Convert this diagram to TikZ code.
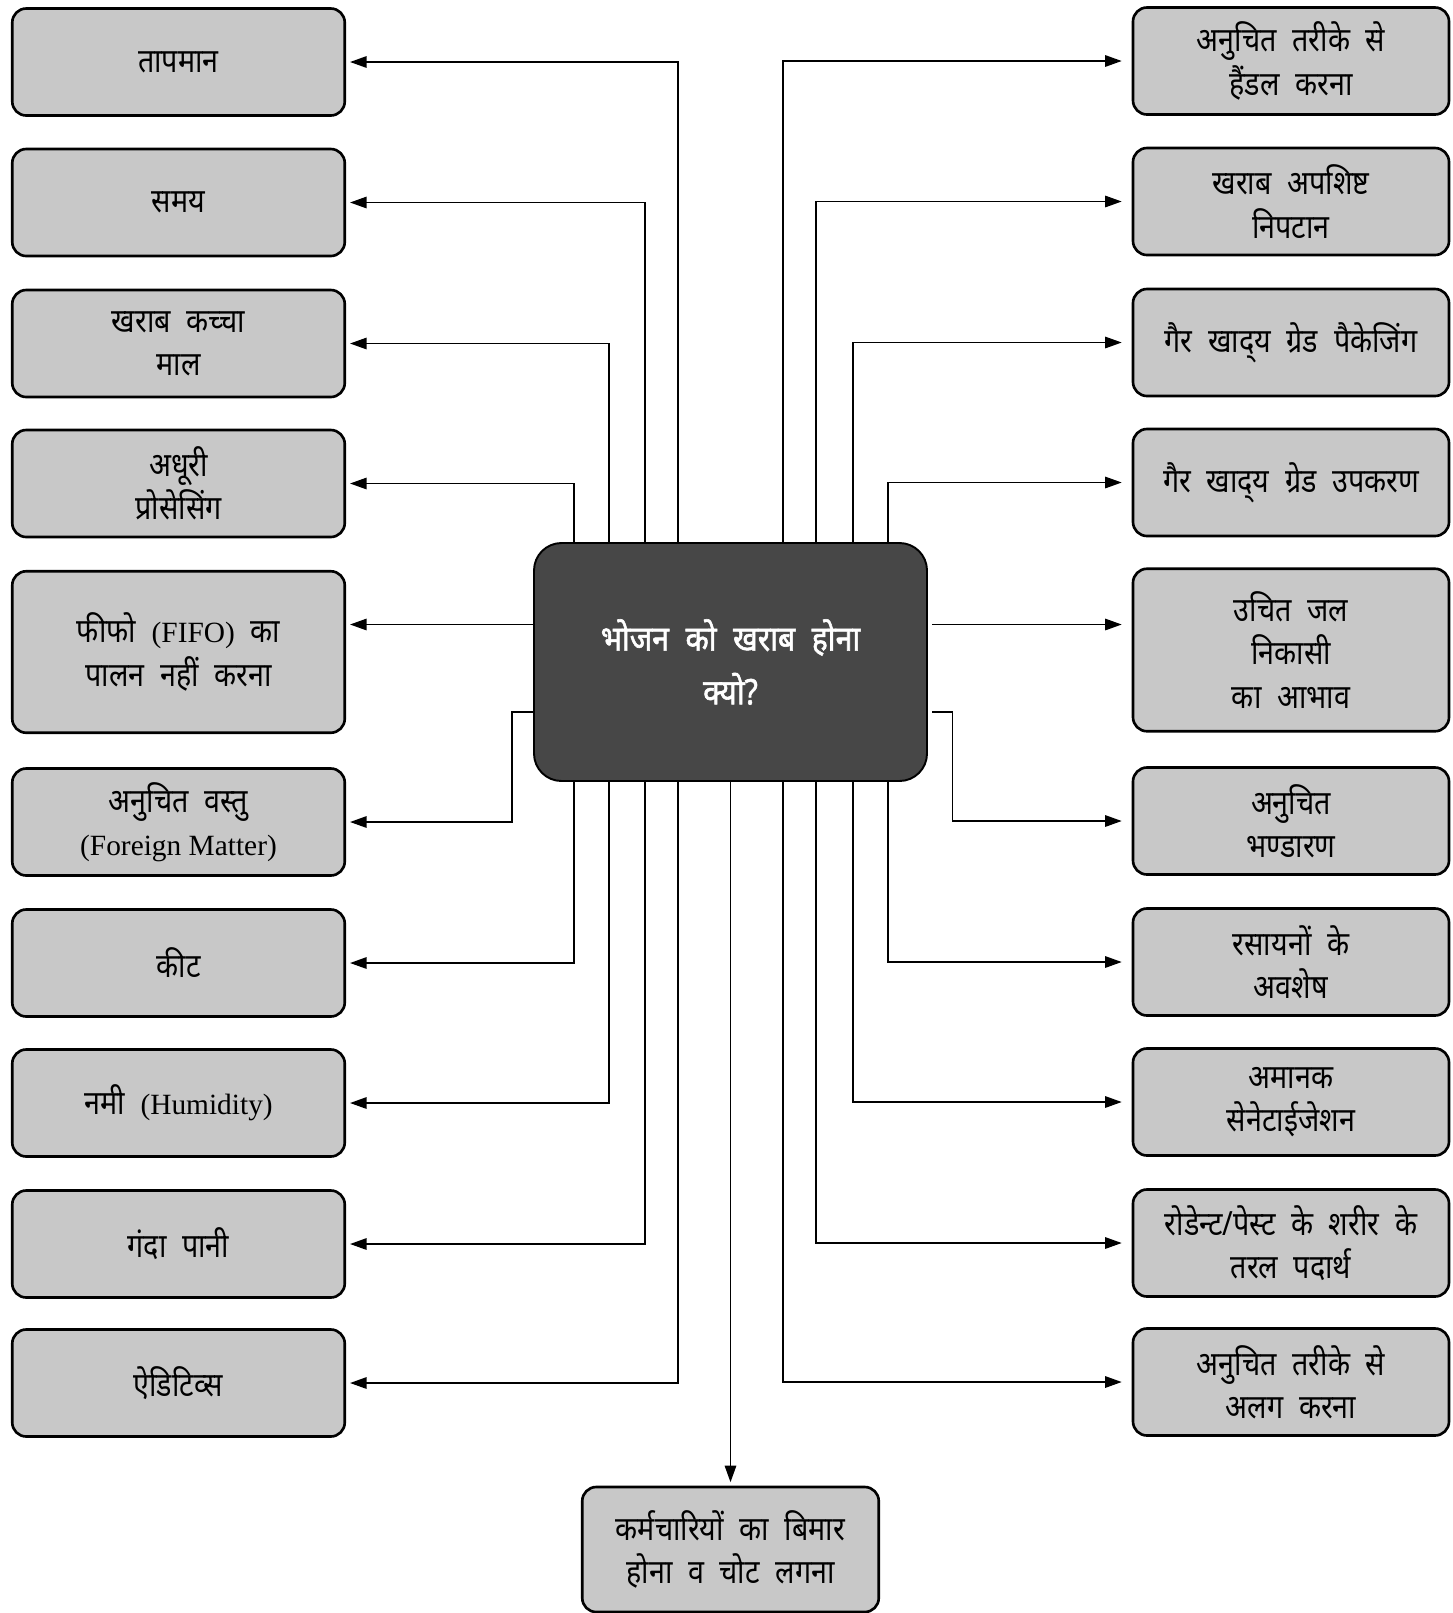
\documentclass[tikz,border=0pt]{standalone}
\usepackage{fontspec}
\setmainfont{Liberation Serif}
\newfontfamily\hi[Script=Devanagari,FakeStretch=0.86,WordSpace=2.1]{Noto Sans}
\newfontfamily\hibold[Script=Devanagari,FakeStretch=0.86,WordSpace=2.1,FakeBold=1.6]{Noto Sans}
\newfontfamily\en[Scale=0.88]{Liberation Serif}
\usetikzlibrary{arrows.meta}

\definecolor{boxgray}{HTML}{C8C8C8}
\definecolor{coregray}{HTML}{474747}

\tikzset{
  cause/.style={draw,line width=1.5pt,rounded corners=2.8mm,fill=boxgray,align=center,
    minimum height=2.14cm,font=\hi\fontsize{19}{24.6}\selectfont},
  lbox/.style={cause,minimum width=6.65cm},
  rbox/.style={cause,minimum width=6.32cm},
  arr/.style={-{Triangle[length=3.3mm,width=2.3mm]},line width=0.75pt},
}

\begin{document}
\begin{tikzpicture}
  \useasboundingbox (0,0) rectangle (29.06,-32.26);

  % central question
  \node[draw,line width=1.1pt,rounded corners=5.5mm,fill=coregray,text=white,align=center,
    minimum width=7.86cm,minimum height=4.76cm,font=\hibold\fontsize{20}{30.5}\selectfont]
    (core) at (14.61,-13.24) {भोजन को खराब होना\\क्यो?};

  % left causes
  \node[lbox] (l1) at (3.57,-1.24) {तापमान};
  \node[lbox] (l2) at (3.57,-4.05) {समय};
  \node[lbox] (l3) at (3.57,-6.87) {खराब कच्चा\\माल};
  \node[lbox] (l4) at (3.57,-9.67) {अधूरी\\प्रोसेसिंग};
  \node[lbox,minimum height=3.23cm] (l5) at (3.57,-13.04) {फीफो {\en (FIFO)} का\\पालन नहीं करना};
  \node[lbox] (l6) at (3.57,-16.44) {अनुचित वस्तु\\{\en (Foreign Matter)}};
  \node[lbox] (l7) at (3.57,-19.26) {कीट};
  \node[lbox] (l8) at (3.57,-22.06) {नमी {\en (Humidity)}};
  \node[lbox] (l9) at (3.57,-24.88) {गंदा पानी};
  \node[lbox] (l10) at (3.57,-27.66) {ऐडिटिव्स};

  % right causes
  \node[rbox] (r1) at (25.82,-1.22) {अनुचित तरीके से\\हैंडल करना};
  \node[rbox] (r2) at (25.82,-4.03) {खराब अपशिष्ट\\निपटान};
  \node[rbox] (r3) at (25.82,-6.85) {गैर खाद्^^^^200cय ग्रेड पैकेजिंग};
  \node[rbox] (r4) at (25.82,-9.65) {गैर खाद्^^^^200cय ग्रेड उपकरण};
  \node[rbox,minimum height=3.25cm] (r5) at (25.82,-13.0) {उचित जल\\निकासी\\का आभाव};
  \node[rbox] (r6) at (25.82,-16.42) {अनुचित\\भण्डारण};
  \node[rbox] (r7) at (25.82,-19.24) {रसायनों के\\अवशेष};
  \node[rbox] (r8) at (25.82,-22.04) {अमानक\\सेनेटाईजेशन};
  \node[rbox] (r9) at (25.82,-24.86) {रोडेन्ट/पेस्ट के शरीर के\\तरल पदार्थ};
  \node[rbox] (r10) at (25.82,-27.64) {अनुचित तरीके से\\अलग करना};

  % bottom cause
  \node[cause,minimum width=5.93cm,minimum height=2.5cm] (staff) at (14.61,-30.99)
    {कर्मचारियों का बिमार\\होना व चोट लगना};

  % left connectors
  \draw[arr,shorten >=0.08cm] ([xshift=-1.05cm]core.north) |- (l1.east);
  \draw[arr,shorten >=0.08cm] ([xshift=-1.71cm]core.north) |- (l2.east);
  \draw[arr,shorten >=0.08cm] ([xshift=-2.43cm]core.north) |- (l3.east);
  \draw[arr,shorten >=0.08cm] ([xshift=-3.13cm]core.north) |- (l4.east);
  \draw[arr,shorten >=0.08cm] ([yshift=0.75cm]core.west) -- ([yshift=0.75cm]core.west -| l5.east);
  \draw[arr,shorten >=0.08cm] ([yshift=-1cm]core.west) -- ++(-0.42,0) |- (l6.east);
  \draw[arr,shorten >=0.08cm] ([xshift=-3.13cm]core.south) |- (l7.east);
  \draw[arr,shorten >=0.08cm] ([xshift=-2.43cm]core.south) |- (l8.east);
  \draw[arr,shorten >=0.08cm] ([xshift=-1.71cm]core.south) |- (l9.east);
  \draw[arr,shorten >=0.08cm] ([xshift=-1.05cm]core.south) |- (l10.east);

  % right connectors
  \draw[arr,shorten >=0.2cm] ([xshift=1.05cm]core.north) |- (r1.west);
  \draw[arr,shorten >=0.2cm] ([xshift=1.71cm]core.north) |- (r2.west);
  \draw[arr,shorten >=0.2cm] ([xshift=2.45cm]core.north) |- (r3.west);
  \draw[arr,shorten >=0.2cm] ([xshift=3.15cm]core.north) |- (r4.west);
  \draw[arr,shorten >=0.2cm] ([xshift=0.09cm,yshift=0.75cm]core.east) -- ([yshift=0.75cm]core.east -| r5.west);
  \draw[arr,shorten >=0.2cm] ([xshift=0.09cm,yshift=-1cm]core.east) -- ++(0.4,0) |- (r6.west);
  \draw[arr,shorten >=0.2cm] ([xshift=3.15cm]core.south) |- (r7.west);
  \draw[arr,shorten >=0.2cm] ([xshift=2.45cm]core.south) |- (r8.west);
  \draw[arr,shorten >=0.2cm] ([xshift=1.71cm]core.south) |- (r9.west);
  \draw[arr,shorten >=0.2cm] ([xshift=1.05cm]core.south) |- (r10.west);

  % down to staff
  \draw[arr,shorten >=0.07cm] (core.south) -- (staff.north);
\end{tikzpicture}
\end{document}
